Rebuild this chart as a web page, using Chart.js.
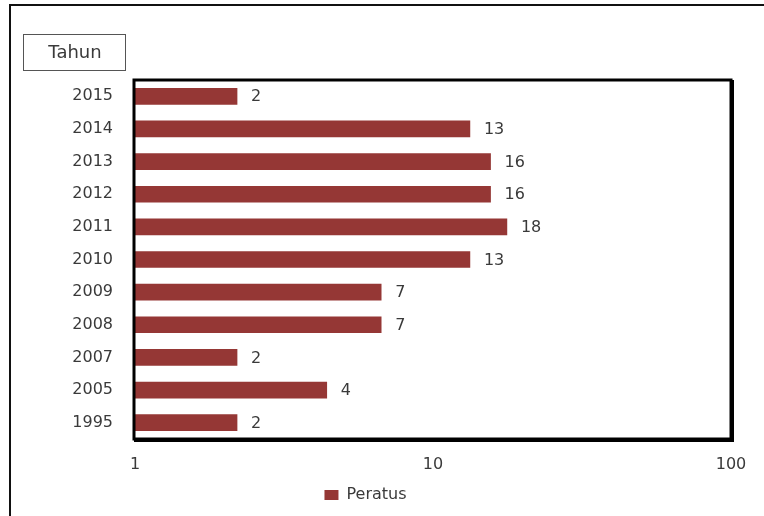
<!DOCTYPE html>
<html>
<head>
<meta charset="utf-8">
<script src="https://cdn.jsdelivr.net/npm/chart.js@4.4.1/dist/chart.umd.min.js"></script>
<style>
  html, body { margin: 0; padding: 0; background: #fff; }
  #wrap { width: 764px; height: 516px; position: relative; }
</style>
</head>
<body>
<div id="wrap"><canvas id="chart" width="764" height="516"></canvas></div>
<script>
// data
const tahun = ['2015', '2014', '2013', '2012', '2011', '2010', '2009', '2008', '2007', '2005', '1995'];
const peratus = [2.2, 13.3, 15.6, 15.6, 17.7, 13.3, 6.7, 6.7, 2.2, 4.4, 2.2];
const xTicks = [1, 10, 100];
const seriesName = 'Peratus';
const axisTitle = 'Tahun';

const fontFam = '"DejaVu Sans", Verdana, sans-serif';
const barColor = '#953735';
const textColor = '#3a3a3a';

// frame, "Tahun" box, plot border and value labels
const decor = {
    id: 'decor',
    afterDraw(chart) {
        const ctx = chart.ctx;
        const a = chart.chartArea;
        ctx.save();
        // outer frame (top + left)
        ctx.strokeStyle = '#111';
        ctx.lineWidth = 2;
        ctx.beginPath();
        ctx.moveTo(10, 516);
        ctx.lineTo(10, 5);
        ctx.lineTo(764, 5);
        ctx.stroke();

        // Tahun box
        ctx.strokeStyle = '#555';
        ctx.lineWidth = 1;
        ctx.strokeRect(23.5, 34.5, 102, 36);
        ctx.fillStyle = textColor;
        ctx.font = '18px ' + fontFam;
        ctx.textAlign = 'center';
        ctx.textBaseline = 'middle';
        ctx.fillText(axisTitle, 75, 53);

        // plot border, heavier right/bottom
        ctx.strokeStyle = '#000';
        ctx.lineWidth = 3;
        ctx.strokeRect(a.left - 1, a.top, a.right - a.left + 1, a.bottom - a.top);
        ctx.lineWidth = 2;
        ctx.beginPath();
        ctx.moveTo(a.right + 2, a.top);
        ctx.lineTo(a.right + 2, a.bottom + 2);
        ctx.lineTo(a.left - 1, a.bottom + 2);
        ctx.stroke();

        // value labels
        ctx.font = '16px ' + fontFam;
        ctx.textAlign = 'left';
        ctx.fillStyle = textColor;
        const meta = chart.getDatasetMeta(0);
        meta.data.forEach((bar, i) => {
            ctx.fillText(String(Math.round(peratus[i])), bar.x + 14, bar.y + 1);
        });
        ctx.restore();
    }
};

new Chart(document.getElementById('chart').getContext('2d'), {
    type: 'bar',
    data: {
        labels: tahun,
        datasets: [{
            label: seriesName,
            data: peratus,
            backgroundColor: barColor,
            borderWidth: 0,
            barThickness: 16
        }]
    },
    options: {
        indexAxis: 'y',
        responsive: false,
        animation: false,
        layout: { padding: { top: 80, right: 33, bottom: 3, left: 0 } },
        scales: {
            x: {
                type: 'logarithmic',
                min: 1,
                max: 100,
                afterBuildTicks: scale => {
                    scale.ticks = xTicks.map(v => ({ value: v }));
                },
                afterFit: scale => { scale.height = 38; },
                grid: { display: false, drawTicks: false },
                border: { display: false },
                ticks: {
                    color: textColor,
                    font: { family: fontFam, size: 16 },
                    padding: 16,
                    maxRotation: 0,
                    callback: v => String(v)
                }
            },
            y: {
                afterFit: scale => { scale.width = 135; },
                grid: { display: false, drawTicks: false },
                border: { display: false },
                ticks: {
                    color: textColor,
                    font: { family: fontFam, size: 16 },
                    padding: 22
                }
            }
        },
        plugins: {
            legend: {
                position: 'bottom',
                labels: {
                    color: textColor,
                    font: { family: fontFam, size: 16 },
                    boxWidth: 14,
                    boxHeight: 10,
                    padding: 10
                }
            },
            tooltip: { enabled: false }
        }
    },
    plugins: [decor]
});
</script>
</body>
</html>
